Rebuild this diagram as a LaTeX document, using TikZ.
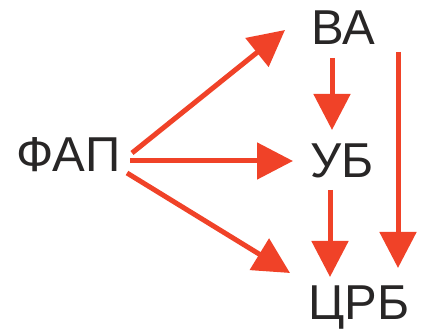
\documentclass[tikz,border=0pt]{standalone}
\usepackage{fontspec}
\setmainfont{Liberation Sans}
\usetikzlibrary{arrows.meta}

\definecolor{arrred}{RGB}{240,66,40}
\definecolor{txtgray}{RGB}{40,38,38}

\begin{document}
\begin{tikzpicture}[x=1pt,y=1pt,
  lbl/.style={anchor=base,inner sep=0pt,text=txtgray,font=\fontsize{49}{50}\selectfont},
  arr/.style={draw=arrred,line width=5pt,-{Triangle[length=36pt,width=36pt]}}]

\useasboundingbox (0,0) rectangle (423,334);

% Text Node
\draw (68.5,162) node (fap) [lbl] {ФАП};
% Text Node
\draw (343,289) node (va) [lbl] {ВА};
% Text Node
\draw (342,156) node (ub) [lbl] {УБ};
% Text Node
\draw (359,14) node (crb) [lbl] {ЦРБ};

%Straight Lines
\draw [arr] ([shift={(63.5,19)}]fap.base) -- ([shift={(-58,15)}]va.base) ;
%Straight Lines
\draw [arr] ([shift={(61.5,11)}]fap.base) -- ([shift={(-49,17)}]ub.base) ;
%Straight Lines
\draw [arr] ([shift={(58.5,-1)}]fap.base) -- ([shift={(-69,47)}]crb.base) ;
%Straight Lines
\draw [arr] ([shift={(-11,-13)}]va.base) -- ([shift={(-10,48)}]ub.base) ;
%Straight Lines
\draw [arr] ([shift={(-12,-12)}]ub.base) -- ([shift={(-29,43)}]crb.base) ;
%Straight Lines
\draw [arr] ([shift={(55,-7)}]va.base) -- ([shift={(39,52)}]crb.base) ;

\end{tikzpicture}
\end{document}
